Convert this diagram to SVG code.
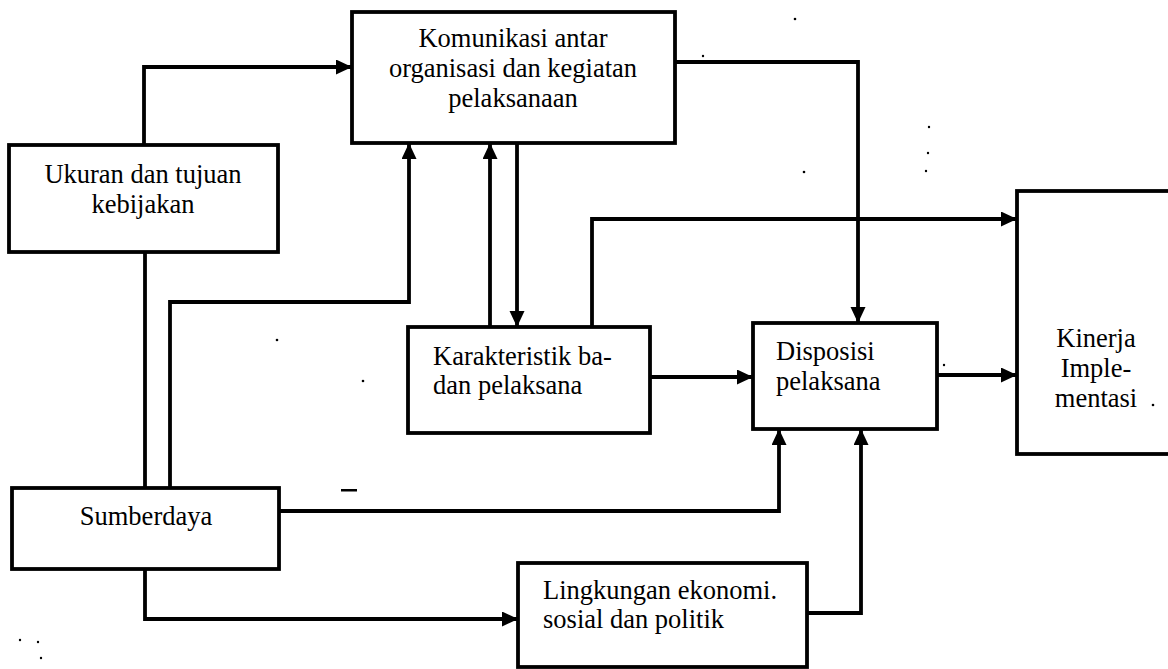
<svg xmlns="http://www.w3.org/2000/svg" width="1168" height="669" viewBox="0 0 1168 669">
  <style>
    .box { fill: #ffffff; stroke: #000000; stroke-width: 3.8; }
    .wire { fill: none; stroke: #000000; stroke-width: 3.8; stroke-linejoin: miter; }
    .arrow { marker-end: url(#head); }
    .mid { text-anchor: middle; }
    .speck { fill: #000000; }
  </style>
  <defs>
    <marker id="head" markerUnits="userSpaceOnUse" markerWidth="18" markerHeight="16" refX="16" refY="7.5" orient="auto">
      <path d="M0,0 L16,7.5 L0,15 Z" fill="#000000"/>
    </marker>
  </defs>

  <rect width="1168" height="669" fill="#ffffff"/>

  <!-- connectors -->
  <g id="connectors">
    <path class="wire arrow" d="M144,145 V67 H352"/>
    <path class="wire" d="M145,252 V488"/>
    <path class="wire arrow" d="M170,488 V302 H409 V143"/>
    <path class="wire arrow" d="M490,327 V143"/>
    <path class="wire arrow" d="M517,143 V327"/>
    <path class="wire arrow" d="M675,62 H858 V323"/>
    <path class="wire arrow" d="M592,327 V219 H1017"/>
    <path class="wire arrow" d="M650,377 H753"/>
    <path class="wire arrow" d="M937,375 H1017"/>
    <path class="wire arrow" d="M279,511 H779 V429"/>
    <path class="wire arrow" d="M145,569 V619 H518"/>
    <path class="wire arrow" d="M807,613 H861 V429"/>
  </g>

  <!-- nodes -->
  <g font-family="'Liberation Serif', serif" font-size="26.5" fill="#000000">
    <g id="komunikasi">
      <rect class="box" x="352" y="12" width="323" height="131"/>
      <text class="mid" x="513" y="47">Komunikasi antar</text>
      <text class="mid" x="513" y="77">organisasi dan kegiatan</text>
      <text class="mid" x="513" y="107">pelaksanaan</text>
    </g>

    <g id="ukuran">
      <rect class="box" x="9" y="145" width="269" height="107"/>
      <text class="mid" x="143" y="183">Ukuran dan tujuan</text>
      <text class="mid" x="143" y="213">kebijakan</text>
    </g>

    <g id="karakteristik">
      <rect class="box" x="408" y="327" width="242" height="106"/>
      <text x="433" y="365">Karakteristik ba-</text>
      <text x="433" y="394">dan pelaksana</text>
    </g>

    <g id="disposisi">
      <rect class="box" x="753" y="323" width="184" height="106"/>
      <text x="776" y="360">Disposisi</text>
      <text x="776" y="390">pelaksana</text>
    </g>

    <g id="kinerja">
      <rect class="box" x="1017" y="191" width="170" height="263"/>
      <text class="mid" x="1096" y="347">Kinerja</text>
      <text class="mid" x="1096" y="377">Imple-</text>
      <text class="mid" x="1096" y="407">mentasi</text>
    </g>

    <g id="sumberdaya">
      <rect class="box" x="12" y="488" width="267" height="81"/>
      <text class="mid" x="146" y="525">Sumberdaya</text>
    </g>

    <g id="lingkungan">
      <rect class="box" x="518" y="563" width="289" height="104"/>
      <text x="543" y="599">Lingkungan ekonomi.</text>
      <text x="543" y="628">sosial dan politik</text>
    </g>
  </g>

  <!-- stray print marks -->
  <g id="specks">
    <circle class="speck" cx="277" cy="340" r="1.3"/>
    <circle class="speck" cx="363" cy="381" r="1.3"/>
    <circle class="speck" cx="795" cy="19" r="1.3"/>
    <circle class="speck" cx="703" cy="56" r="1.2"/>
    <circle class="speck" cx="804" cy="172" r="1.3"/>
    <circle class="speck" cx="929" cy="127" r="1.2"/>
    <circle class="speck" cx="928" cy="153" r="1.2"/>
    <circle class="speck" cx="926" cy="171" r="1.2"/>
    <circle class="speck" cx="944" cy="365" r="1.2"/>
    <circle class="speck" cx="1153" cy="405" r="1.3"/>
    <circle class="speck" cx="20" cy="640" r="1.2"/>
    <circle class="speck" cx="38" cy="642" r="1.2"/>
    <circle class="speck" cx="41" cy="658" r="1.2"/>
    <rect class="speck" x="341" y="489" width="16" height="2.5"/>
  </g>
</svg>
